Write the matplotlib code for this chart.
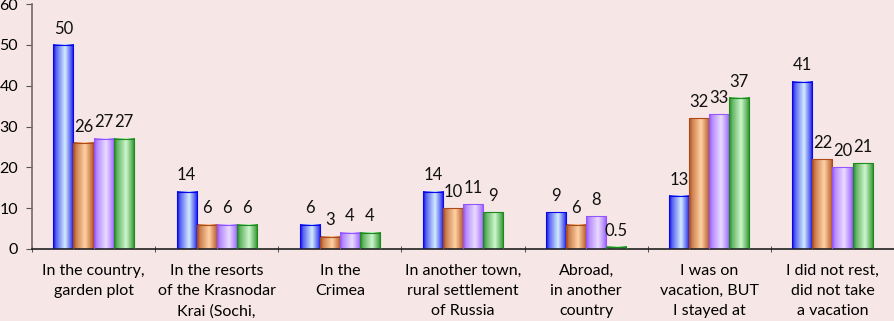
import matplotlib.pyplot as plt
import numpy as np
from matplotlib.colors import LinearSegmentedColormap

# Chart data
categories = [
    "In the country,\ngarden plot",
    "In the resorts\nof the Krasnodar\nKrai (Sochi,",
    "In the\nCrimea",
    "In another town,\nrural settlement\nof Russia",
    "Abroad,\nin another\ncountry",
    "I was on\nvacation, BUT\nI stayed at",
    "I did not rest,\ndid not take\na vacation",
]
blue_vals = [50, 14, 6, 14, 9, 13, 41]
orange_vals = [26, 6, 3, 10, 6, 32, 22]
purple_vals = [27, 6, 4, 11, 8, 33, 20]
green_vals = [27, 6, 4, 9, 0.5, 37, 21]
value_labels = [
    ["50", "14", "6", "14", "9", "13", "41"],
    ["26", "6", "3", "10", "6", "32", "22"],
    ["27", "6", "4", "11", "8", "33", "20"],
    ["27", "6", "4", "9", "0.5", "37", "21"],
]

series = [blue_vals, orange_vals, purple_vals, green_vals]
# (dark edge, light centre) for the shaded cylinder look
shades = [
    ("#0808e8", "#d2ecff"),
    ("#ad4a18", "#ffd2a4"),
    ("#9455ff", "#eadcff"),
    ("#1c8a1c", "#cdf6cd"),
]

bg = "#f7e6e6"
plt.rcParams["font.family"] = ["Lato", "DejaVu Sans"]

fig = plt.figure(figsize=(8.95, 3.21), dpi=100, facecolor=bg)
ax = fig.add_axes([32 / 895, 72 / 321, 862 / 895, 245 / 321], facecolor=bg)

x = np.arange(len(categories))
width = 0.163
ramp = np.linspace(0, 1, 64)
# dark -> light (peak a bit right of centre) -> dark
profile = np.interp(ramp, [0, 0.15, 0.58, 0.9, 1.0], [0.0, 0.4, 1.0, 0.3, 0.0])

for i, vals in enumerate(series):
    dark, light = shades[i]
    cmap = LinearSegmentedColormap.from_list(f"s{i}", [dark, light])
    offs = (i - 1.5) * width
    bars = ax.bar(x + offs, vals, width, color="none", edgecolor=dark, linewidth=0.8, zorder=3)
    for b, lab in zip(bars, value_labels[i]):
        x0, w, h = b.get_x(), b.get_width(), b.get_height()
        ax.imshow(profile[np.newaxis, :], cmap=cmap, vmin=0, vmax=1,
                  extent=(x0, x0 + w, 0, h), aspect="auto", zorder=2,
                  interpolation="bilinear")
        ax.annotate(lab, (x0 + w / 2, h), xytext=(0, 6), textcoords="offset points",
                    ha="center", va="bottom", fontsize=12, color="#111111")

ax.set_xlim(-0.5, len(categories) - 0.5)
ax.set_ylim(0, 60)
ax.set_yticks(range(0, 61, 10))
ax.tick_params(axis="y", labelsize=11.5, length=4, color="#555555", pad=6)
ax.set_xticks(x)
ax.set_xticklabels(categories, fontsize=11.5, linespacing=1.52, va="top")
ax.tick_params(axis="x", length=0, pad=11)
ax.set_xticks(np.arange(-0.5, len(categories)), minor=True)
ax.tick_params(axis="x", which="minor", length=4, direction="inout", color="#333333")

for s in ["top", "right"]:
    ax.spines[s].set_visible(False)
ax.spines["left"].set_color("#7a6666")
ax.spines["left"].set_linewidth(1.2)
ax.spines["bottom"].set_color("#222222")
ax.spines["bottom"].set_linewidth(1.2)

fig.savefig("out.png", dpi=100, facecolor=bg)
